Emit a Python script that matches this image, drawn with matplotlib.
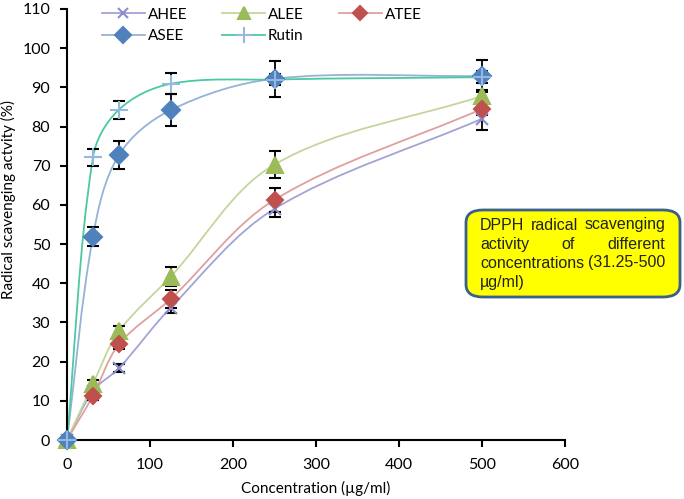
import numpy as np
import matplotlib
matplotlib.use("Agg")
import matplotlib.pyplot as plt
from matplotlib.path import Path
from matplotlib.patches import PathPatch, FancyBboxPatch
from matplotlib.lines import Line2D

plt.rcParams['font.family'] = ['Lato', 'DejaVu Sans']

# concentrations (ug/ml)
conc = [0, 31.25, 62.5, 125, 250, 500]

# scavenging activity (%) and error bars
ahee = [0, 12.5, 18.3, 33.8, 59.0, 82.0]
ahee_err = [0, 1.0, 1.0, 1.5, 2.0, 3.0]
alee = [0, 14.3, 27.7, 41.7, 70.3, 87.8]
alee_err = [0, 1.0, 1.5, 2.4, 3.5, 1.5]
atee = [0, 11.3, 24.4, 36.0, 61.3, 84.5]
atee_err = [0, 1.0, 1.3, 2.2, 3.0, 1.5]
asee = [0, 51.9, 72.7, 84.2, 92.2, 92.9]
asee_err = [0, 2.5, 3.6, 4.1, 4.6, 4.2]
rutin = [0, 72.1, 84.3, 90.9, 92.0, 92.6]
rutin_err = [0, 2.2, 2.3, 2.7, 1.5, 1.5]

names = ["AHEE", "ALEE", "ATEE", "ASEE", "Rutin"]
values = [ahee, alee, atee, asee, rutin]
errors = [ahee_err, alee_err, atee_err, asee_err, rutin_err]
line_colors = ["#a3a3d6", "#c3d69b", "#e0a09e", "#95b3d7", "#4cc9a0"]
marker_colors = ["#8c8cc8", "#9bbb59", "#c0504d", "#4f81bd", "#95b8e0"]
markers = ["x", "^", "D", "D", "+"]
msizes = [9, 11, 8.5, 9.5, 13]

XMAX, YMAX = 600, 110
AX_W, AX_H = 498, 431  # axes size in px


def smooth_path(x, y):
    # smoothed line like excel: bezier segments, worked out in pixel space
    sx, sy = AX_W / XMAX, AX_H / YMAX
    pts = np.column_stack([np.array(x) * sx, np.array(y) * sy])
    n = len(pts)
    tang = []
    for i in range(n):
        d = pts[min(i + 1, n - 1)] - pts[max(i - 1, 0)]
        tang.append(d / np.hypot(*d))
    verts = [pts[0]]
    codes = [Path.MOVETO]
    for i in range(n - 1):
        seg = np.hypot(*(pts[i + 1] - pts[i])) / 3
        verts += [pts[i] + tang[i] * seg, pts[i + 1] - tang[i + 1] * seg, pts[i + 1]]
        codes += [Path.CURVE4] * 3
    verts = np.array(verts) / [sx, sy]
    return Path(verts, codes)


fig = plt.figure(figsize=(6.84, 4.99), dpi=100)
ax = fig.add_axes([67 / 684, 1 - 440 / 499, AX_W / 684, AX_H / 499])

for i in range(len(names)):
    ax.add_patch(PathPatch(smooth_path(conc, values[i]), fill=False,
                           edgecolor=line_colors[i], lw=1.3, zorder=2))
for i in range(len(names)):
    ax.errorbar(conc[1:], values[i][1:], yerr=errors[i][1:], fmt="none",
                ecolor="black", elinewidth=1.3, capsize=4, capthick=1.5, zorder=3)
for i in range(len(names)):
    ax.plot(conc, values[i], ls="none", marker=markers[i], ms=msizes[i],
            color=marker_colors[i], mew=1.5, zorder=4, clip_on=False)

ax.set_xlim(0, XMAX)
ax.set_ylim(0, YMAX)
ax.set_xticks(range(0, 601, 100))
ax.set_yticks(range(0, 111, 10))
ax.spines["top"].set_visible(False)
ax.spines["right"].set_visible(False)
for s in ["left", "bottom"]:
    ax.spines[s].set_linewidth(1.5)
ax.tick_params(direction="out", length=5, width=1.5, labelsize=11.5)
ax.tick_params(axis="x", pad=8)
ax.tick_params(axis="y", pad=7)
ax.set_xlabel("Concentration (µg/ml)", fontsize=11)
ax.set_ylabel("Radical scavenging actvity (%)", fontsize=11)
ax.xaxis.set_label_coords(0.5, -0.095)
ax.yaxis.set_label_coords(-0.103, 0.557)

handles = [Line2D([], [], color=line_colors[i], lw=1.3, marker=markers[i],
                  ms=msizes[i] * 0.85, mfc=marker_colors[i], mec=marker_colors[i], mew=1.5)
           for i in range(len(names))]
# legend fills column-wise, so reorder to get rows AHEE ALEE ATEE / ASEE Rutin
order = [0, 3, 1, 4, 2]
fig.legend([handles[i] for i in order], [names[i] for i in order],
           loc="upper left", bbox_to_anchor=(88 / 684, 1.012),
           ncol=3, frameon=False, fontsize=11, handlelength=2.8,
           handletextpad=0.2, columnspacing=2.3, labelspacing=0.5)

# yellow note box
box = FancyBboxPatch((466 / 684, 1 - 297 / 499), 214 / 684, 87 / 499,
                     boxstyle="round,pad=0,rounding_size=0.025",
                     transform=fig.transFigure, facecolor="#ffff00",
                     edgecolor="#3a5f8a", lw=2, zorder=5)
fig.add_artist(box)

note_lines = [["DPPH", "radical", "scavenging"],
              ["activity", "of", "different"],
              ["concentrations", "(31.25-500"],
              ["µg/ml)"]]
fig.canvas.draw()
renderer = fig.canvas.get_renderer()
left_px, right_px = 480, 665
top_px = 225
for k, words in enumerate(note_lines):
    ypx = top_px + k * 19
    texts = [fig.text(0, 1 - ypx / 499, w, family="Liberation Sans", fontsize=11.5,
                      color="#222222", va="center", zorder=6) for w in words]
    widths = [t.get_window_extent(renderer).width for t in texts]
    if k < len(note_lines) - 1 and len(words) > 1:
        gap = (right_px - left_px - sum(widths)) / (len(words) - 1)
    else:
        gap = 5
    xpx = left_px
    for t, w in zip(texts, widths):
        t.set_x(xpx / 684)
        xpx += w + gap

fig.savefig("out.png", dpi=100)
